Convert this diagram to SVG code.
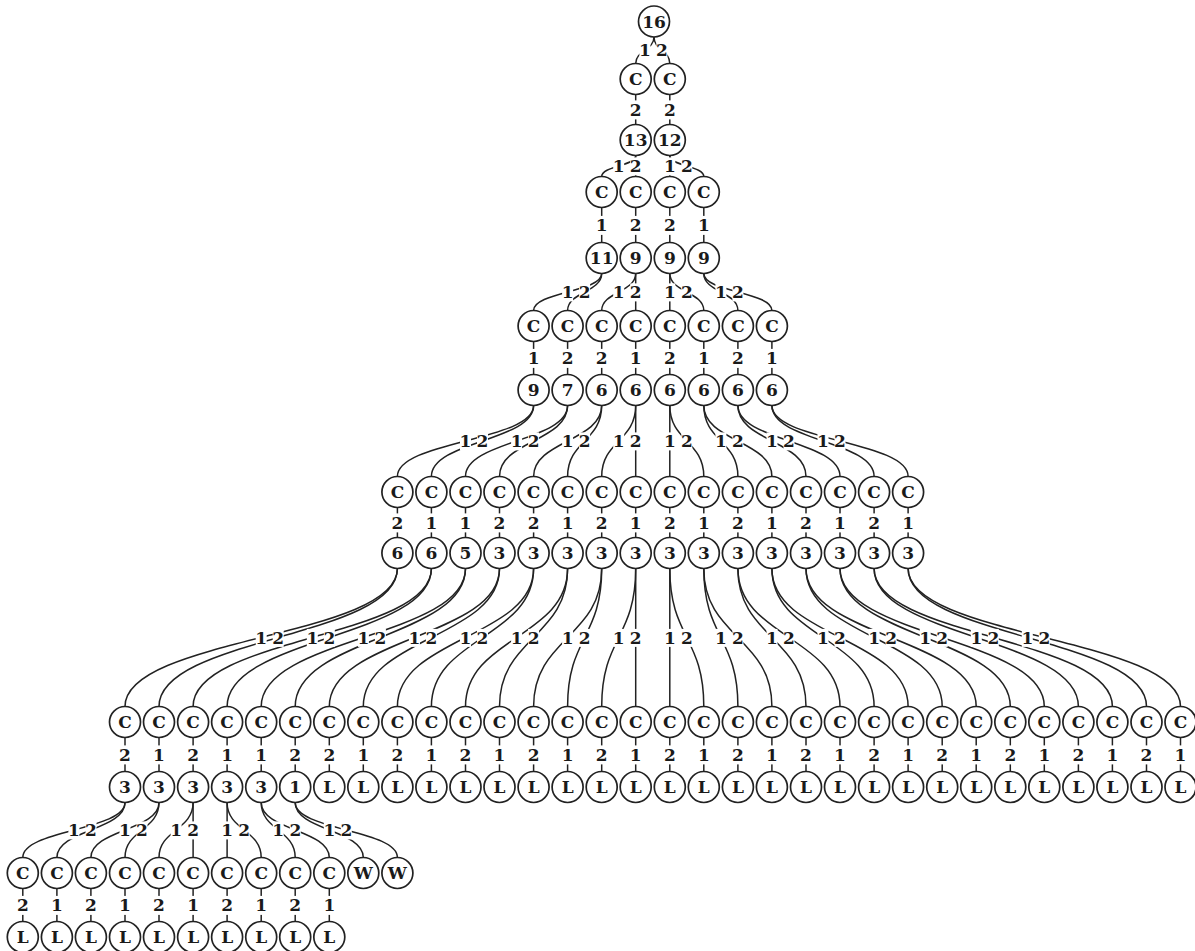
<svg xmlns="http://www.w3.org/2000/svg" width="1195" height="951" viewBox="0 0 1195 951">
<style>
.n circle{fill:#fff;stroke:#222;stroke-width:1.7}
text{font-family:"DejaVu Serif","Liberation Serif",serif;font-weight:bold;font-size:17px;text-anchor:middle;fill:#1a1a1a}
#connectors path{fill:none;stroke:#222;stroke-width:1.5}
.lb{fill:#fff}
</style>
<rect width="1195" height="951" fill="#fff"/>
<g id="connectors">
<path d="M654,37C654,50.25 635.7,50.25 635.7,63.5"/>
<path d="M654,37C654,50.25 669.8,50.25 669.8,63.5"/>
<path d="M635.7,94.5V124.5"/><path d="M669.8,94.5V124.5"/>
<path d="M635.7,155.5C635.7,166 601.7,166 601.7,176.5"/>
<path d="M635.7,155.5V176.5"/>
<path d="M669.8,155.5V176.5"/>
<path d="M669.8,155.5C669.8,166 703.8,166 703.8,176.5"/>
<path d="M601.7,207.5V242.5"/><path d="M635.7,207.5V242.5"/><path d="M669.8,207.5V242.5"/><path d="M703.8,207.5V242.5"/>
<path d="M601.7,273.5C601.7,292 533.6,292 533.6,310.5"/>
<path d="M601.7,273.5C601.7,292 567.6,292 567.6,310.5"/>
<path d="M635.7,273.5C635.7,292 601.7,292 601.7,310.5"/>
<path d="M635.7,273.5V310.5"/>
<path d="M669.8,273.5V310.5"/>
<path d="M669.8,273.5C669.8,292 703.8,292 703.8,310.5"/>
<path d="M703.8,273.5C703.8,292 737.9,292 737.9,310.5"/>
<path d="M703.8,273.5C703.8,292 771.9,292 771.9,310.5"/>
<path d="M533.6,341.5V374.5"/><path d="M567.6,341.5V374.5"/><path d="M601.7,341.5V374.5"/><path d="M635.7,341.5V374.5"/><path d="M669.8,341.5V374.5"/><path d="M703.8,341.5V374.5"/><path d="M737.9,341.5V374.5"/><path d="M771.9,341.5V374.5"/>
<path d="M533.6,405.5C533.6,441 397.4,441 397.4,476.5"/>
<path d="M533.6,405.5C533.6,441 431.4,441 431.4,476.5"/>
<path d="M567.6,405.5C567.6,441 465.5,441 465.5,476.5"/>
<path d="M567.6,405.5C567.6,441 499.5,441 499.5,476.5"/>
<path d="M601.7,405.5C601.7,441 533.6,441 533.6,476.5"/>
<path d="M601.7,405.5C601.7,441 567.6,441 567.6,476.5"/>
<path d="M635.7,405.5C635.7,441 601.7,441 601.7,476.5"/>
<path d="M635.7,405.5V476.5"/>
<path d="M669.8,405.5V476.5"/>
<path d="M669.8,405.5C669.8,441 703.8,441 703.8,476.5"/>
<path d="M703.8,405.5C703.8,441 737.9,441 737.9,476.5"/>
<path d="M703.8,405.5C703.8,441 771.9,441 771.9,476.5"/>
<path d="M737.9,405.5C737.9,441 806,441 806,476.5"/>
<path d="M737.9,405.5C737.9,441 840,441 840,476.5"/>
<path d="M771.9,405.5C771.9,441 874.1,441 874.1,476.5"/>
<path d="M771.9,405.5C771.9,441 908.1,441 908.1,476.5"/>
<path d="M397.4,507.5V537.5"/><path d="M431.4,507.5V537.5"/><path d="M465.5,507.5V537.5"/><path d="M499.5,507.5V537.5"/><path d="M533.6,507.5V537.5"/><path d="M567.6,507.5V537.5"/><path d="M601.7,507.5V537.5"/><path d="M635.7,507.5V537.5"/><path d="M669.8,507.5V537.5"/><path d="M703.8,507.5V537.5"/><path d="M737.9,507.5V537.5"/><path d="M771.9,507.5V537.5"/><path d="M806,507.5V537.5"/><path d="M840,507.5V537.5"/><path d="M874.1,507.5V537.5"/><path d="M908.1,507.5V537.5"/>
<path d="M397.4,568.5C397.4,637.5 125,637.5 125,706.5"/>
<path d="M397.4,568.5C397.4,637.5 159,637.5 159,706.5"/>
<path d="M431.4,568.5C431.4,637.5 193.1,637.5 193.1,706.5"/>
<path d="M431.4,568.5C431.4,637.5 227.1,637.5 227.1,706.5"/>
<path d="M465.5,568.5C465.5,637.5 261.2,637.5 261.2,706.5"/>
<path d="M465.5,568.5C465.5,637.5 295.2,637.5 295.2,706.5"/>
<path d="M499.5,568.5C499.5,637.5 329.3,637.5 329.3,706.5"/>
<path d="M499.5,568.5C499.5,637.5 363.3,637.5 363.3,706.5"/>
<path d="M533.6,568.5C533.6,637.5 397.4,637.5 397.4,706.5"/>
<path d="M533.6,568.5C533.6,637.5 431.4,637.5 431.4,706.5"/>
<path d="M567.6,568.5C567.6,637.5 465.5,637.5 465.5,706.5"/>
<path d="M567.6,568.5C567.6,637.5 499.5,637.5 499.5,706.5"/>
<path d="M601.7,568.5C601.7,637.5 533.6,637.5 533.6,706.5"/>
<path d="M601.7,568.5C601.7,637.5 567.6,637.5 567.6,706.5"/>
<path d="M635.7,568.5C635.7,637.5 601.7,637.5 601.7,706.5"/>
<path d="M635.7,568.5V706.5"/>
<path d="M669.8,568.5V706.5"/>
<path d="M669.8,568.5C669.8,637.5 703.8,637.5 703.8,706.5"/>
<path d="M703.8,568.5C703.8,637.5 737.9,637.5 737.9,706.5"/>
<path d="M703.8,568.5C703.8,637.5 771.9,637.5 771.9,706.5"/>
<path d="M737.9,568.5C737.9,637.5 806,637.5 806,706.5"/>
<path d="M737.9,568.5C737.9,637.5 840,637.5 840,706.5"/>
<path d="M771.9,568.5C771.9,637.5 874.1,637.5 874.1,706.5"/>
<path d="M771.9,568.5C771.9,637.5 908.1,637.5 908.1,706.5"/>
<path d="M806,568.5C806,637.5 942.2,637.5 942.2,706.5"/>
<path d="M806,568.5C806,637.5 976.2,637.5 976.2,706.5"/>
<path d="M840,568.5C840,637.5 1010.3,637.5 1010.3,706.5"/>
<path d="M840,568.5C840,637.5 1044.3,637.5 1044.3,706.5"/>
<path d="M874.1,568.5C874.1,637.5 1078.4,637.5 1078.4,706.5"/>
<path d="M874.1,568.5C874.1,637.5 1112.4,637.5 1112.4,706.5"/>
<path d="M908.1,568.5C908.1,637.5 1146.5,637.5 1146.5,706.5"/>
<path d="M908.1,568.5C908.1,637.5 1180.5,637.5 1180.5,706.5"/>
<path d="M125,737.5V771.5"/><path d="M159,737.5V771.5"/><path d="M193.1,737.5V771.5"/><path d="M227.1,737.5V771.5"/><path d="M261.2,737.5V771.5"/><path d="M295.2,737.5V771.5"/><path d="M329.3,737.5V771.5"/><path d="M363.3,737.5V771.5"/><path d="M397.4,737.5V771.5"/><path d="M431.4,737.5V771.5"/><path d="M465.5,737.5V771.5"/><path d="M499.5,737.5V771.5"/><path d="M533.6,737.5V771.5"/><path d="M567.6,737.5V771.5"/><path d="M601.7,737.5V771.5"/><path d="M635.7,737.5V771.5"/><path d="M669.8,737.5V771.5"/><path d="M703.8,737.5V771.5"/><path d="M737.9,737.5V771.5"/><path d="M771.9,737.5V771.5"/><path d="M806,737.5V771.5"/><path d="M840,737.5V771.5"/><path d="M874.1,737.5V771.5"/><path d="M908.1,737.5V771.5"/><path d="M942.2,737.5V771.5"/><path d="M976.2,737.5V771.5"/><path d="M1010.3,737.5V771.5"/><path d="M1044.3,737.5V771.5"/><path d="M1078.4,737.5V771.5"/><path d="M1112.4,737.5V771.5"/><path d="M1146.5,737.5V771.5"/><path d="M1180.5,737.5V771.5"/>
<path d="M125,802.5C125,830 22.8,830 22.8,857.5"/>
<path d="M125,802.5C125,830 56.9,830 56.9,857.5"/>
<path d="M159,802.5C159,830 90.9,830 90.9,857.5"/>
<path d="M159,802.5C159,830 125,830 125,857.5"/>
<path d="M193.1,802.5C193.1,830 159,830 159,857.5"/>
<path d="M193.1,802.5V857.5"/>
<path d="M227.1,802.5V857.5"/>
<path d="M227.1,802.5C227.1,830 261.2,830 261.2,857.5"/>
<path d="M261.2,802.5C261.2,830 295.2,830 295.2,857.5"/>
<path d="M261.2,802.5C261.2,830 329.3,830 329.3,857.5"/>
<path d="M295.2,802.5C295.2,830 363.3,830 363.3,857.5"/>
<path d="M295.2,802.5C295.2,830 397.4,830 397.4,857.5"/>
<path d="M22.8,888.5V921.5"/><path d="M56.9,888.5V921.5"/><path d="M90.9,888.5V921.5"/><path d="M125,888.5V921.5"/><path d="M159,888.5V921.5"/><path d="M193.1,888.5V921.5"/><path d="M227.1,888.5V921.5"/><path d="M261.2,888.5V921.5"/><path d="M295.2,888.5V921.5"/><path d="M329.3,888.5V921.5"/>
<g id="edge-labels" transform="translate(0,0.4)">
<rect class="lb" x="639.4" y="41" width="11" height="18"/><text x="644.9" y="56">1</text>
<rect class="lb" x="656.4" y="41" width="11" height="18"/><text x="661.9" y="56">2</text>
<rect class="lb" x="630.2" y="100" width="11" height="19"/><text x="635.7" y="115.3">2</text>
<rect class="lb" x="664.3" y="100" width="11" height="19"/><text x="669.8" y="115.3">2</text>
<rect class="lb" x="613.2" y="157" width="11" height="18"/><text x="618.7" y="171.8">1</text>
<rect class="lb" x="630.2" y="157" width="11" height="18"/><text x="635.7" y="171.8">2</text>
<rect class="lb" x="664.3" y="157" width="11" height="18"/><text x="669.8" y="171.8">1</text>
<rect class="lb" x="681.3" y="157" width="11" height="18"/><text x="686.8" y="171.8">2</text>
<rect class="lb" x="596.2" y="215.5" width="11" height="19"/><text x="601.7" y="230.8">1</text>
<rect class="lb" x="630.2" y="215.5" width="11" height="19"/><text x="635.7" y="230.8">2</text>
<rect class="lb" x="664.3" y="215.5" width="11" height="19"/><text x="669.8" y="230.8">2</text>
<rect class="lb" x="698.3" y="215.5" width="11" height="19"/><text x="703.8" y="230.8">1</text>
<rect class="lb" x="562.1" y="283" width="11" height="18"/><text x="567.6" y="297.8">1</text>
<rect class="lb" x="579.1" y="283" width="11" height="18"/><text x="584.6" y="297.8">2</text>
<rect class="lb" x="613.2" y="283" width="11" height="18"/><text x="618.7" y="297.8">1</text>
<rect class="lb" x="630.2" y="283" width="11" height="18"/><text x="635.7" y="297.8">2</text>
<rect class="lb" x="664.3" y="283" width="11" height="18"/><text x="669.8" y="297.8">1</text>
<rect class="lb" x="681.3" y="283" width="11" height="18"/><text x="686.8" y="297.8">2</text>
<rect class="lb" x="715.4" y="283" width="11" height="18"/><text x="720.9" y="297.8">1</text>
<rect class="lb" x="732.4" y="283" width="11" height="18"/><text x="737.9" y="297.8">2</text>
<rect class="lb" x="528.1" y="348.5" width="11" height="19"/><text x="533.6" y="363.8">1</text>
<rect class="lb" x="562.1" y="348.5" width="11" height="19"/><text x="567.6" y="363.8">2</text>
<rect class="lb" x="596.2" y="348.5" width="11" height="19"/><text x="601.7" y="363.8">2</text>
<rect class="lb" x="630.2" y="348.5" width="11" height="19"/><text x="635.7" y="363.8">1</text>
<rect class="lb" x="664.3" y="348.5" width="11" height="19"/><text x="669.8" y="363.8">2</text>
<rect class="lb" x="698.3" y="348.5" width="11" height="19"/><text x="703.8" y="363.8">1</text>
<rect class="lb" x="732.4" y="348.5" width="11" height="19"/><text x="737.9" y="363.8">2</text>
<rect class="lb" x="766.4" y="348.5" width="11" height="19"/><text x="771.9" y="363.8">1</text>
<rect class="lb" x="460" y="432" width="11" height="18"/><text x="465.5" y="446.8">1</text>
<rect class="lb" x="477" y="432" width="11" height="18"/><text x="482.5" y="446.8">2</text>
<rect class="lb" x="511.1" y="432" width="11" height="18"/><text x="516.6" y="446.8">1</text>
<rect class="lb" x="528.1" y="432" width="11" height="18"/><text x="533.6" y="446.8">2</text>
<rect class="lb" x="562.1" y="432" width="11" height="18"/><text x="567.6" y="446.8">1</text>
<rect class="lb" x="579.1" y="432" width="11" height="18"/><text x="584.6" y="446.8">2</text>
<rect class="lb" x="613.2" y="432" width="11" height="18"/><text x="618.7" y="446.8">1</text>
<rect class="lb" x="630.2" y="432" width="11" height="18"/><text x="635.7" y="446.8">2</text>
<rect class="lb" x="664.3" y="432" width="11" height="18"/><text x="669.8" y="446.8">1</text>
<rect class="lb" x="681.3" y="432" width="11" height="18"/><text x="686.8" y="446.8">2</text>
<rect class="lb" x="715.4" y="432" width="11" height="18"/><text x="720.9" y="446.8">1</text>
<rect class="lb" x="732.4" y="432" width="11" height="18"/><text x="737.9" y="446.8">2</text>
<rect class="lb" x="766.5" y="432" width="11" height="18"/><text x="772" y="446.8">1</text>
<rect class="lb" x="783.5" y="432" width="11" height="18"/><text x="789" y="446.8">2</text>
<rect class="lb" x="817.5" y="432" width="11" height="18"/><text x="823" y="446.8">1</text>
<rect class="lb" x="834.5" y="432" width="11" height="18"/><text x="840" y="446.8">2</text>
<rect class="lb" x="391.9" y="513" width="11" height="19"/><text x="397.4" y="528.3">2</text>
<rect class="lb" x="425.9" y="513" width="11" height="19"/><text x="431.4" y="528.3">1</text>
<rect class="lb" x="460" y="513" width="11" height="19"/><text x="465.5" y="528.3">1</text>
<rect class="lb" x="494" y="513" width="11" height="19"/><text x="499.5" y="528.3">2</text>
<rect class="lb" x="528.1" y="513" width="11" height="19"/><text x="533.6" y="528.3">2</text>
<rect class="lb" x="562.1" y="513" width="11" height="19"/><text x="567.6" y="528.3">1</text>
<rect class="lb" x="596.2" y="513" width="11" height="19"/><text x="601.7" y="528.3">2</text>
<rect class="lb" x="630.2" y="513" width="11" height="19"/><text x="635.7" y="528.3">1</text>
<rect class="lb" x="664.3" y="513" width="11" height="19"/><text x="669.8" y="528.3">2</text>
<rect class="lb" x="698.3" y="513" width="11" height="19"/><text x="703.8" y="528.3">1</text>
<rect class="lb" x="732.4" y="513" width="11" height="19"/><text x="737.9" y="528.3">2</text>
<rect class="lb" x="766.4" y="513" width="11" height="19"/><text x="771.9" y="528.3">1</text>
<rect class="lb" x="800.5" y="513" width="11" height="19"/><text x="806" y="528.3">2</text>
<rect class="lb" x="834.5" y="513" width="11" height="19"/><text x="840" y="528.3">1</text>
<rect class="lb" x="868.6" y="513" width="11" height="19"/><text x="874.1" y="528.3">2</text>
<rect class="lb" x="902.6" y="513" width="11" height="19"/><text x="908.1" y="528.3">1</text>
<rect class="lb" x="255.7" y="628.5" width="11" height="18"/><text x="261.2" y="643.3">1</text>
<rect class="lb" x="272.7" y="628.5" width="11" height="18"/><text x="278.2" y="643.3">2</text>
<rect class="lb" x="306.8" y="628.5" width="11" height="18"/><text x="312.3" y="643.3">1</text>
<rect class="lb" x="323.8" y="628.5" width="11" height="18"/><text x="329.3" y="643.3">2</text>
<rect class="lb" x="357.9" y="628.5" width="11" height="18"/><text x="363.4" y="643.3">1</text>
<rect class="lb" x="374.9" y="628.5" width="11" height="18"/><text x="380.4" y="643.3">2</text>
<rect class="lb" x="408.9" y="628.5" width="11" height="18"/><text x="414.4" y="643.3">1</text>
<rect class="lb" x="425.9" y="628.5" width="11" height="18"/><text x="431.4" y="643.3">2</text>
<rect class="lb" x="460" y="628.5" width="11" height="18"/><text x="465.5" y="643.3">1</text>
<rect class="lb" x="477" y="628.5" width="11" height="18"/><text x="482.5" y="643.3">2</text>
<rect class="lb" x="511.1" y="628.5" width="11" height="18"/><text x="516.6" y="643.3">1</text>
<rect class="lb" x="528.1" y="628.5" width="11" height="18"/><text x="533.6" y="643.3">2</text>
<rect class="lb" x="562.1" y="628.5" width="11" height="18"/><text x="567.6" y="643.3">1</text>
<rect class="lb" x="579.1" y="628.5" width="11" height="18"/><text x="584.6" y="643.3">2</text>
<rect class="lb" x="613.2" y="628.5" width="11" height="18"/><text x="618.7" y="643.3">1</text>
<rect class="lb" x="630.2" y="628.5" width="11" height="18"/><text x="635.7" y="643.3">2</text>
<rect class="lb" x="664.3" y="628.5" width="11" height="18"/><text x="669.8" y="643.3">1</text>
<rect class="lb" x="681.3" y="628.5" width="11" height="18"/><text x="686.8" y="643.3">2</text>
<rect class="lb" x="715.4" y="628.5" width="11" height="18"/><text x="720.9" y="643.3">1</text>
<rect class="lb" x="732.4" y="628.5" width="11" height="18"/><text x="737.9" y="643.3">2</text>
<rect class="lb" x="766.5" y="628.5" width="11" height="18"/><text x="772" y="643.3">1</text>
<rect class="lb" x="783.5" y="628.5" width="11" height="18"/><text x="789" y="643.3">2</text>
<rect class="lb" x="817.5" y="628.5" width="11" height="18"/><text x="823" y="643.3">1</text>
<rect class="lb" x="834.5" y="628.5" width="11" height="18"/><text x="840" y="643.3">2</text>
<rect class="lb" x="868.6" y="628.5" width="11" height="18"/><text x="874.1" y="643.3">1</text>
<rect class="lb" x="885.6" y="628.5" width="11" height="18"/><text x="891.1" y="643.3">2</text>
<rect class="lb" x="919.7" y="628.5" width="11" height="18"/><text x="925.2" y="643.3">1</text>
<rect class="lb" x="936.7" y="628.5" width="11" height="18"/><text x="942.2" y="643.3">2</text>
<rect class="lb" x="970.8" y="628.5" width="11" height="18"/><text x="976.3" y="643.3">1</text>
<rect class="lb" x="987.8" y="628.5" width="11" height="18"/><text x="993.3" y="643.3">2</text>
<rect class="lb" x="1021.8" y="628.5" width="11" height="18"/><text x="1027.3" y="643.3">1</text>
<rect class="lb" x="1038.8" y="628.5" width="11" height="18"/><text x="1044.3" y="643.3">2</text>
<rect class="lb" x="119.5" y="745" width="11" height="19"/><text x="125" y="760.3">2</text>
<rect class="lb" x="153.5" y="745" width="11" height="19"/><text x="159" y="760.3">1</text>
<rect class="lb" x="187.6" y="745" width="11" height="19"/><text x="193.1" y="760.3">2</text>
<rect class="lb" x="221.6" y="745" width="11" height="19"/><text x="227.1" y="760.3">1</text>
<rect class="lb" x="255.7" y="745" width="11" height="19"/><text x="261.2" y="760.3">1</text>
<rect class="lb" x="289.7" y="745" width="11" height="19"/><text x="295.2" y="760.3">2</text>
<rect class="lb" x="323.8" y="745" width="11" height="19"/><text x="329.3" y="760.3">2</text>
<rect class="lb" x="357.8" y="745" width="11" height="19"/><text x="363.3" y="760.3">1</text>
<rect class="lb" x="391.9" y="745" width="11" height="19"/><text x="397.4" y="760.3">2</text>
<rect class="lb" x="425.9" y="745" width="11" height="19"/><text x="431.4" y="760.3">1</text>
<rect class="lb" x="460" y="745" width="11" height="19"/><text x="465.5" y="760.3">2</text>
<rect class="lb" x="494" y="745" width="11" height="19"/><text x="499.5" y="760.3">1</text>
<rect class="lb" x="528.1" y="745" width="11" height="19"/><text x="533.6" y="760.3">2</text>
<rect class="lb" x="562.1" y="745" width="11" height="19"/><text x="567.6" y="760.3">1</text>
<rect class="lb" x="596.2" y="745" width="11" height="19"/><text x="601.7" y="760.3">2</text>
<rect class="lb" x="630.2" y="745" width="11" height="19"/><text x="635.7" y="760.3">1</text>
<rect class="lb" x="664.3" y="745" width="11" height="19"/><text x="669.8" y="760.3">2</text>
<rect class="lb" x="698.3" y="745" width="11" height="19"/><text x="703.8" y="760.3">1</text>
<rect class="lb" x="732.4" y="745" width="11" height="19"/><text x="737.9" y="760.3">2</text>
<rect class="lb" x="766.4" y="745" width="11" height="19"/><text x="771.9" y="760.3">1</text>
<rect class="lb" x="800.5" y="745" width="11" height="19"/><text x="806" y="760.3">2</text>
<rect class="lb" x="834.5" y="745" width="11" height="19"/><text x="840" y="760.3">1</text>
<rect class="lb" x="868.6" y="745" width="11" height="19"/><text x="874.1" y="760.3">2</text>
<rect class="lb" x="902.6" y="745" width="11" height="19"/><text x="908.1" y="760.3">1</text>
<rect class="lb" x="936.7" y="745" width="11" height="19"/><text x="942.2" y="760.3">2</text>
<rect class="lb" x="970.7" y="745" width="11" height="19"/><text x="976.2" y="760.3">1</text>
<rect class="lb" x="1004.8" y="745" width="11" height="19"/><text x="1010.3" y="760.3">2</text>
<rect class="lb" x="1038.8" y="745" width="11" height="19"/><text x="1044.3" y="760.3">1</text>
<rect class="lb" x="1072.9" y="745" width="11" height="19"/><text x="1078.4" y="760.3">2</text>
<rect class="lb" x="1106.9" y="745" width="11" height="19"/><text x="1112.4" y="760.3">1</text>
<rect class="lb" x="1141" y="745" width="11" height="19"/><text x="1146.5" y="760.3">2</text>
<rect class="lb" x="1175" y="745" width="11" height="19"/><text x="1180.5" y="760.3">1</text>
<rect class="lb" x="68.4" y="821" width="11" height="18"/><text x="73.9" y="835.8">1</text>
<rect class="lb" x="85.5" y="821" width="11" height="18"/><text x="91" y="835.8">2</text>
<rect class="lb" x="119.5" y="821" width="11" height="18"/><text x="125" y="835.8">1</text>
<rect class="lb" x="136.5" y="821" width="11" height="18"/><text x="142" y="835.8">2</text>
<rect class="lb" x="170.6" y="821" width="11" height="18"/><text x="176.1" y="835.8">1</text>
<rect class="lb" x="187.6" y="821" width="11" height="18"/><text x="193.1" y="835.8">2</text>
<rect class="lb" x="221.6" y="821" width="11" height="18"/><text x="227.1" y="835.8">1</text>
<rect class="lb" x="238.7" y="821" width="11" height="18"/><text x="244.2" y="835.8">2</text>
<rect class="lb" x="272.7" y="821" width="11" height="18"/><text x="278.2" y="835.8">1</text>
<rect class="lb" x="289.8" y="821" width="11" height="18"/><text x="295.3" y="835.8">2</text>
<rect class="lb" x="323.8" y="821" width="11" height="18"/><text x="329.3" y="835.8">1</text>
<rect class="lb" x="340.8" y="821" width="11" height="18"/><text x="346.3" y="835.8">2</text>
<rect class="lb" x="17.3" y="895.5" width="11" height="19"/><text x="22.8" y="910.8">2</text>
<rect class="lb" x="51.4" y="895.5" width="11" height="19"/><text x="56.9" y="910.8">1</text>
<rect class="lb" x="85.4" y="895.5" width="11" height="19"/><text x="90.9" y="910.8">2</text>
<rect class="lb" x="119.5" y="895.5" width="11" height="19"/><text x="125" y="910.8">1</text>
<rect class="lb" x="153.5" y="895.5" width="11" height="19"/><text x="159" y="910.8">2</text>
<rect class="lb" x="187.6" y="895.5" width="11" height="19"/><text x="193.1" y="910.8">1</text>
<rect class="lb" x="221.6" y="895.5" width="11" height="19"/><text x="227.1" y="910.8">2</text>
<rect class="lb" x="255.7" y="895.5" width="11" height="19"/><text x="261.2" y="910.8">1</text>
<rect class="lb" x="289.7" y="895.5" width="11" height="19"/><text x="295.2" y="910.8">2</text>
<rect class="lb" x="323.8" y="895.5" width="11" height="19"/><text x="329.3" y="910.8">1</text>
</g>
</g>
<g id="n0" class="n" transform="translate(654,21.5)"><circle r="15.5"/><text y="6.2">16</text></g>
<g id="n1a" class="n" transform="translate(635.7,79)"><circle r="15.5"/><text y="6.2">C</text></g>
<g id="n1b" class="n" transform="translate(669.8,79)"><circle r="15.5"/><text y="6.2">C</text></g>
<g id="n2a" class="n" transform="translate(635.7,140)"><circle r="15.5"/><text y="6.2">13</text></g>
<g id="n2b" class="n" transform="translate(669.8,140)"><circle r="15.5"/><text y="6.2">12</text></g>
<g id="n3a" class="n" transform="translate(601.7,192)"><circle r="15.5"/><text y="6.2">C</text></g>
<g id="n3b" class="n" transform="translate(635.7,192)"><circle r="15.5"/><text y="6.2">C</text></g>
<g id="n3c" class="n" transform="translate(669.8,192)"><circle r="15.5"/><text y="6.2">C</text></g>
<g id="n3d" class="n" transform="translate(703.8,192)"><circle r="15.5"/><text y="6.2">C</text></g>
<g id="n4a" class="n" transform="translate(601.7,258)"><circle r="15.5"/><text y="6.2">11</text></g>
<g id="n4b" class="n" transform="translate(635.7,258)"><circle r="15.5"/><text y="6.2">9</text></g>
<g id="n4c" class="n" transform="translate(669.8,258)"><circle r="15.5"/><text y="6.2">9</text></g>
<g id="n4d" class="n" transform="translate(703.8,258)"><circle r="15.5"/><text y="6.2">9</text></g>
<g id="n5-15" class="n" transform="translate(533.6,326)"><circle r="15.5"/><text y="6.2">C</text></g>
<g id="n5-16" class="n" transform="translate(567.6,326)"><circle r="15.5"/><text y="6.2">C</text></g>
<g id="n5-17" class="n" transform="translate(601.7,326)"><circle r="15.5"/><text y="6.2">C</text></g>
<g id="n5-18" class="n" transform="translate(635.7,326)"><circle r="15.5"/><text y="6.2">C</text></g>
<g id="n5-19" class="n" transform="translate(669.8,326)"><circle r="15.5"/><text y="6.2">C</text></g>
<g id="n5-20" class="n" transform="translate(703.8,326)"><circle r="15.5"/><text y="6.2">C</text></g>
<g id="n5-21" class="n" transform="translate(737.9,326)"><circle r="15.5"/><text y="6.2">C</text></g>
<g id="n5-22" class="n" transform="translate(771.9,326)"><circle r="15.5"/><text y="6.2">C</text></g>
<g id="n6-15" class="n" transform="translate(533.6,390)"><circle r="15.5"/><text y="6.2">9</text></g>
<g id="n6-16" class="n" transform="translate(567.6,390)"><circle r="15.5"/><text y="6.2">7</text></g>
<g id="n6-17" class="n" transform="translate(601.7,390)"><circle r="15.5"/><text y="6.2">6</text></g>
<g id="n6-18" class="n" transform="translate(635.7,390)"><circle r="15.5"/><text y="6.2">6</text></g>
<g id="n6-19" class="n" transform="translate(669.8,390)"><circle r="15.5"/><text y="6.2">6</text></g>
<g id="n6-20" class="n" transform="translate(703.8,390)"><circle r="15.5"/><text y="6.2">6</text></g>
<g id="n6-21" class="n" transform="translate(737.9,390)"><circle r="15.5"/><text y="6.2">6</text></g>
<g id="n6-22" class="n" transform="translate(771.9,390)"><circle r="15.5"/><text y="6.2">6</text></g>
<g id="n7-11" class="n" transform="translate(397.4,492)"><circle r="15.5"/><text y="6.2">C</text></g>
<g id="n7-12" class="n" transform="translate(431.4,492)"><circle r="15.5"/><text y="6.2">C</text></g>
<g id="n7-13" class="n" transform="translate(465.5,492)"><circle r="15.5"/><text y="6.2">C</text></g>
<g id="n7-14" class="n" transform="translate(499.5,492)"><circle r="15.5"/><text y="6.2">C</text></g>
<g id="n7-15" class="n" transform="translate(533.6,492)"><circle r="15.5"/><text y="6.2">C</text></g>
<g id="n7-16" class="n" transform="translate(567.6,492)"><circle r="15.5"/><text y="6.2">C</text></g>
<g id="n7-17" class="n" transform="translate(601.7,492)"><circle r="15.5"/><text y="6.2">C</text></g>
<g id="n7-18" class="n" transform="translate(635.7,492)"><circle r="15.5"/><text y="6.2">C</text></g>
<g id="n7-19" class="n" transform="translate(669.8,492)"><circle r="15.5"/><text y="6.2">C</text></g>
<g id="n7-20" class="n" transform="translate(703.8,492)"><circle r="15.5"/><text y="6.2">C</text></g>
<g id="n7-21" class="n" transform="translate(737.9,492)"><circle r="15.5"/><text y="6.2">C</text></g>
<g id="n7-22" class="n" transform="translate(771.9,492)"><circle r="15.5"/><text y="6.2">C</text></g>
<g id="n7-23" class="n" transform="translate(806,492)"><circle r="15.5"/><text y="6.2">C</text></g>
<g id="n7-24" class="n" transform="translate(840,492)"><circle r="15.5"/><text y="6.2">C</text></g>
<g id="n7-25" class="n" transform="translate(874.1,492)"><circle r="15.5"/><text y="6.2">C</text></g>
<g id="n7-26" class="n" transform="translate(908.1,492)"><circle r="15.5"/><text y="6.2">C</text></g>
<g id="n8-11" class="n" transform="translate(397.4,553)"><circle r="15.5"/><text y="6.2">6</text></g>
<g id="n8-12" class="n" transform="translate(431.4,553)"><circle r="15.5"/><text y="6.2">6</text></g>
<g id="n8-13" class="n" transform="translate(465.5,553)"><circle r="15.5"/><text y="6.2">5</text></g>
<g id="n8-14" class="n" transform="translate(499.5,553)"><circle r="15.5"/><text y="6.2">3</text></g>
<g id="n8-15" class="n" transform="translate(533.6,553)"><circle r="15.5"/><text y="6.2">3</text></g>
<g id="n8-16" class="n" transform="translate(567.6,553)"><circle r="15.5"/><text y="6.2">3</text></g>
<g id="n8-17" class="n" transform="translate(601.7,553)"><circle r="15.5"/><text y="6.2">3</text></g>
<g id="n8-18" class="n" transform="translate(635.7,553)"><circle r="15.5"/><text y="6.2">3</text></g>
<g id="n8-19" class="n" transform="translate(669.8,553)"><circle r="15.5"/><text y="6.2">3</text></g>
<g id="n8-20" class="n" transform="translate(703.8,553)"><circle r="15.5"/><text y="6.2">3</text></g>
<g id="n8-21" class="n" transform="translate(737.9,553)"><circle r="15.5"/><text y="6.2">3</text></g>
<g id="n8-22" class="n" transform="translate(771.9,553)"><circle r="15.5"/><text y="6.2">3</text></g>
<g id="n8-23" class="n" transform="translate(806,553)"><circle r="15.5"/><text y="6.2">3</text></g>
<g id="n8-24" class="n" transform="translate(840,553)"><circle r="15.5"/><text y="6.2">3</text></g>
<g id="n8-25" class="n" transform="translate(874.1,553)"><circle r="15.5"/><text y="6.2">3</text></g>
<g id="n8-26" class="n" transform="translate(908.1,553)"><circle r="15.5"/><text y="6.2">3</text></g>
<g id="n9-3" class="n" transform="translate(125,722)"><circle r="15.5"/><text y="6.2">C</text></g>
<g id="n9-4" class="n" transform="translate(159,722)"><circle r="15.5"/><text y="6.2">C</text></g>
<g id="n9-5" class="n" transform="translate(193.1,722)"><circle r="15.5"/><text y="6.2">C</text></g>
<g id="n9-6" class="n" transform="translate(227.1,722)"><circle r="15.5"/><text y="6.2">C</text></g>
<g id="n9-7" class="n" transform="translate(261.2,722)"><circle r="15.5"/><text y="6.2">C</text></g>
<g id="n9-8" class="n" transform="translate(295.2,722)"><circle r="15.5"/><text y="6.2">C</text></g>
<g id="n9-9" class="n" transform="translate(329.3,722)"><circle r="15.5"/><text y="6.2">C</text></g>
<g id="n9-10" class="n" transform="translate(363.3,722)"><circle r="15.5"/><text y="6.2">C</text></g>
<g id="n9-11" class="n" transform="translate(397.4,722)"><circle r="15.5"/><text y="6.2">C</text></g>
<g id="n9-12" class="n" transform="translate(431.4,722)"><circle r="15.5"/><text y="6.2">C</text></g>
<g id="n9-13" class="n" transform="translate(465.5,722)"><circle r="15.5"/><text y="6.2">C</text></g>
<g id="n9-14" class="n" transform="translate(499.5,722)"><circle r="15.5"/><text y="6.2">C</text></g>
<g id="n9-15" class="n" transform="translate(533.6,722)"><circle r="15.5"/><text y="6.2">C</text></g>
<g id="n9-16" class="n" transform="translate(567.6,722)"><circle r="15.5"/><text y="6.2">C</text></g>
<g id="n9-17" class="n" transform="translate(601.7,722)"><circle r="15.5"/><text y="6.2">C</text></g>
<g id="n9-18" class="n" transform="translate(635.7,722)"><circle r="15.5"/><text y="6.2">C</text></g>
<g id="n9-19" class="n" transform="translate(669.8,722)"><circle r="15.5"/><text y="6.2">C</text></g>
<g id="n9-20" class="n" transform="translate(703.8,722)"><circle r="15.5"/><text y="6.2">C</text></g>
<g id="n9-21" class="n" transform="translate(737.9,722)"><circle r="15.5"/><text y="6.2">C</text></g>
<g id="n9-22" class="n" transform="translate(771.9,722)"><circle r="15.5"/><text y="6.2">C</text></g>
<g id="n9-23" class="n" transform="translate(806,722)"><circle r="15.5"/><text y="6.2">C</text></g>
<g id="n9-24" class="n" transform="translate(840,722)"><circle r="15.5"/><text y="6.2">C</text></g>
<g id="n9-25" class="n" transform="translate(874.1,722)"><circle r="15.5"/><text y="6.2">C</text></g>
<g id="n9-26" class="n" transform="translate(908.1,722)"><circle r="15.5"/><text y="6.2">C</text></g>
<g id="n9-27" class="n" transform="translate(942.2,722)"><circle r="15.5"/><text y="6.2">C</text></g>
<g id="n9-28" class="n" transform="translate(976.2,722)"><circle r="15.5"/><text y="6.2">C</text></g>
<g id="n9-29" class="n" transform="translate(1010.3,722)"><circle r="15.5"/><text y="6.2">C</text></g>
<g id="n9-30" class="n" transform="translate(1044.3,722)"><circle r="15.5"/><text y="6.2">C</text></g>
<g id="n9-31" class="n" transform="translate(1078.4,722)"><circle r="15.5"/><text y="6.2">C</text></g>
<g id="n9-32" class="n" transform="translate(1112.4,722)"><circle r="15.5"/><text y="6.2">C</text></g>
<g id="n9-33" class="n" transform="translate(1146.5,722)"><circle r="15.5"/><text y="6.2">C</text></g>
<g id="n9-34" class="n" transform="translate(1180.5,722)"><circle r="15.5"/><text y="6.2">C</text></g>
<g id="n10-3" class="n" transform="translate(125,787)"><circle r="15.5"/><text y="6.2">3</text></g>
<g id="n10-4" class="n" transform="translate(159,787)"><circle r="15.5"/><text y="6.2">3</text></g>
<g id="n10-5" class="n" transform="translate(193.1,787)"><circle r="15.5"/><text y="6.2">3</text></g>
<g id="n10-6" class="n" transform="translate(227.1,787)"><circle r="15.5"/><text y="6.2">3</text></g>
<g id="n10-7" class="n" transform="translate(261.2,787)"><circle r="15.5"/><text y="6.2">3</text></g>
<g id="n10-8" class="n" transform="translate(295.2,787)"><circle r="15.5"/><text y="6.2">1</text></g>
<g id="n10-9" class="n" transform="translate(329.3,787)"><circle r="15.5"/><text y="6.2">L</text></g>
<g id="n10-10" class="n" transform="translate(363.3,787)"><circle r="15.5"/><text y="6.2">L</text></g>
<g id="n10-11" class="n" transform="translate(397.4,787)"><circle r="15.5"/><text y="6.2">L</text></g>
<g id="n10-12" class="n" transform="translate(431.4,787)"><circle r="15.5"/><text y="6.2">L</text></g>
<g id="n10-13" class="n" transform="translate(465.5,787)"><circle r="15.5"/><text y="6.2">L</text></g>
<g id="n10-14" class="n" transform="translate(499.5,787)"><circle r="15.5"/><text y="6.2">L</text></g>
<g id="n10-15" class="n" transform="translate(533.6,787)"><circle r="15.5"/><text y="6.2">L</text></g>
<g id="n10-16" class="n" transform="translate(567.6,787)"><circle r="15.5"/><text y="6.2">L</text></g>
<g id="n10-17" class="n" transform="translate(601.7,787)"><circle r="15.5"/><text y="6.2">L</text></g>
<g id="n10-18" class="n" transform="translate(635.7,787)"><circle r="15.5"/><text y="6.2">L</text></g>
<g id="n10-19" class="n" transform="translate(669.8,787)"><circle r="15.5"/><text y="6.2">L</text></g>
<g id="n10-20" class="n" transform="translate(703.8,787)"><circle r="15.5"/><text y="6.2">L</text></g>
<g id="n10-21" class="n" transform="translate(737.9,787)"><circle r="15.5"/><text y="6.2">L</text></g>
<g id="n10-22" class="n" transform="translate(771.9,787)"><circle r="15.5"/><text y="6.2">L</text></g>
<g id="n10-23" class="n" transform="translate(806,787)"><circle r="15.5"/><text y="6.2">L</text></g>
<g id="n10-24" class="n" transform="translate(840,787)"><circle r="15.5"/><text y="6.2">L</text></g>
<g id="n10-25" class="n" transform="translate(874.1,787)"><circle r="15.5"/><text y="6.2">L</text></g>
<g id="n10-26" class="n" transform="translate(908.1,787)"><circle r="15.5"/><text y="6.2">L</text></g>
<g id="n10-27" class="n" transform="translate(942.2,787)"><circle r="15.5"/><text y="6.2">L</text></g>
<g id="n10-28" class="n" transform="translate(976.2,787)"><circle r="15.5"/><text y="6.2">L</text></g>
<g id="n10-29" class="n" transform="translate(1010.3,787)"><circle r="15.5"/><text y="6.2">L</text></g>
<g id="n10-30" class="n" transform="translate(1044.3,787)"><circle r="15.5"/><text y="6.2">L</text></g>
<g id="n10-31" class="n" transform="translate(1078.4,787)"><circle r="15.5"/><text y="6.2">L</text></g>
<g id="n10-32" class="n" transform="translate(1112.4,787)"><circle r="15.5"/><text y="6.2">L</text></g>
<g id="n10-33" class="n" transform="translate(1146.5,787)"><circle r="15.5"/><text y="6.2">L</text></g>
<g id="n10-34" class="n" transform="translate(1180.5,787)"><circle r="15.5"/><text y="6.2">L</text></g>
<g id="n11-0" class="n" transform="translate(22.8,873)"><circle r="15.5"/><text y="6.2">C</text></g>
<g id="n11-1" class="n" transform="translate(56.9,873)"><circle r="15.5"/><text y="6.2">C</text></g>
<g id="n11-2" class="n" transform="translate(90.9,873)"><circle r="15.5"/><text y="6.2">C</text></g>
<g id="n11-3" class="n" transform="translate(125,873)"><circle r="15.5"/><text y="6.2">C</text></g>
<g id="n11-4" class="n" transform="translate(159,873)"><circle r="15.5"/><text y="6.2">C</text></g>
<g id="n11-5" class="n" transform="translate(193.1,873)"><circle r="15.5"/><text y="6.2">C</text></g>
<g id="n11-6" class="n" transform="translate(227.1,873)"><circle r="15.5"/><text y="6.2">C</text></g>
<g id="n11-7" class="n" transform="translate(261.2,873)"><circle r="15.5"/><text y="6.2">C</text></g>
<g id="n11-8" class="n" transform="translate(295.2,873)"><circle r="15.5"/><text y="6.2">C</text></g>
<g id="n11-9" class="n" transform="translate(329.3,873)"><circle r="15.5"/><text y="6.2">C</text></g>
<g id="n11-10" class="n" transform="translate(363.3,873)"><circle r="15.5"/><text y="6.2">W</text></g>
<g id="n11-11" class="n" transform="translate(397.4,873)"><circle r="15.5"/><text y="6.2">W</text></g>
<g id="n12-0" class="n" transform="translate(22.8,937)"><circle r="15.5"/><text y="6.2">L</text></g>
<g id="n12-1" class="n" transform="translate(56.9,937)"><circle r="15.5"/><text y="6.2">L</text></g>
<g id="n12-2" class="n" transform="translate(90.9,937)"><circle r="15.5"/><text y="6.2">L</text></g>
<g id="n12-3" class="n" transform="translate(125,937)"><circle r="15.5"/><text y="6.2">L</text></g>
<g id="n12-4" class="n" transform="translate(159,937)"><circle r="15.5"/><text y="6.2">L</text></g>
<g id="n12-5" class="n" transform="translate(193.1,937)"><circle r="15.5"/><text y="6.2">L</text></g>
<g id="n12-6" class="n" transform="translate(227.1,937)"><circle r="15.5"/><text y="6.2">L</text></g>
<g id="n12-7" class="n" transform="translate(261.2,937)"><circle r="15.5"/><text y="6.2">L</text></g>
<g id="n12-8" class="n" transform="translate(295.2,937)"><circle r="15.5"/><text y="6.2">L</text></g>
<g id="n12-9" class="n" transform="translate(329.3,937)"><circle r="15.5"/><text y="6.2">L</text></g>
</svg>
